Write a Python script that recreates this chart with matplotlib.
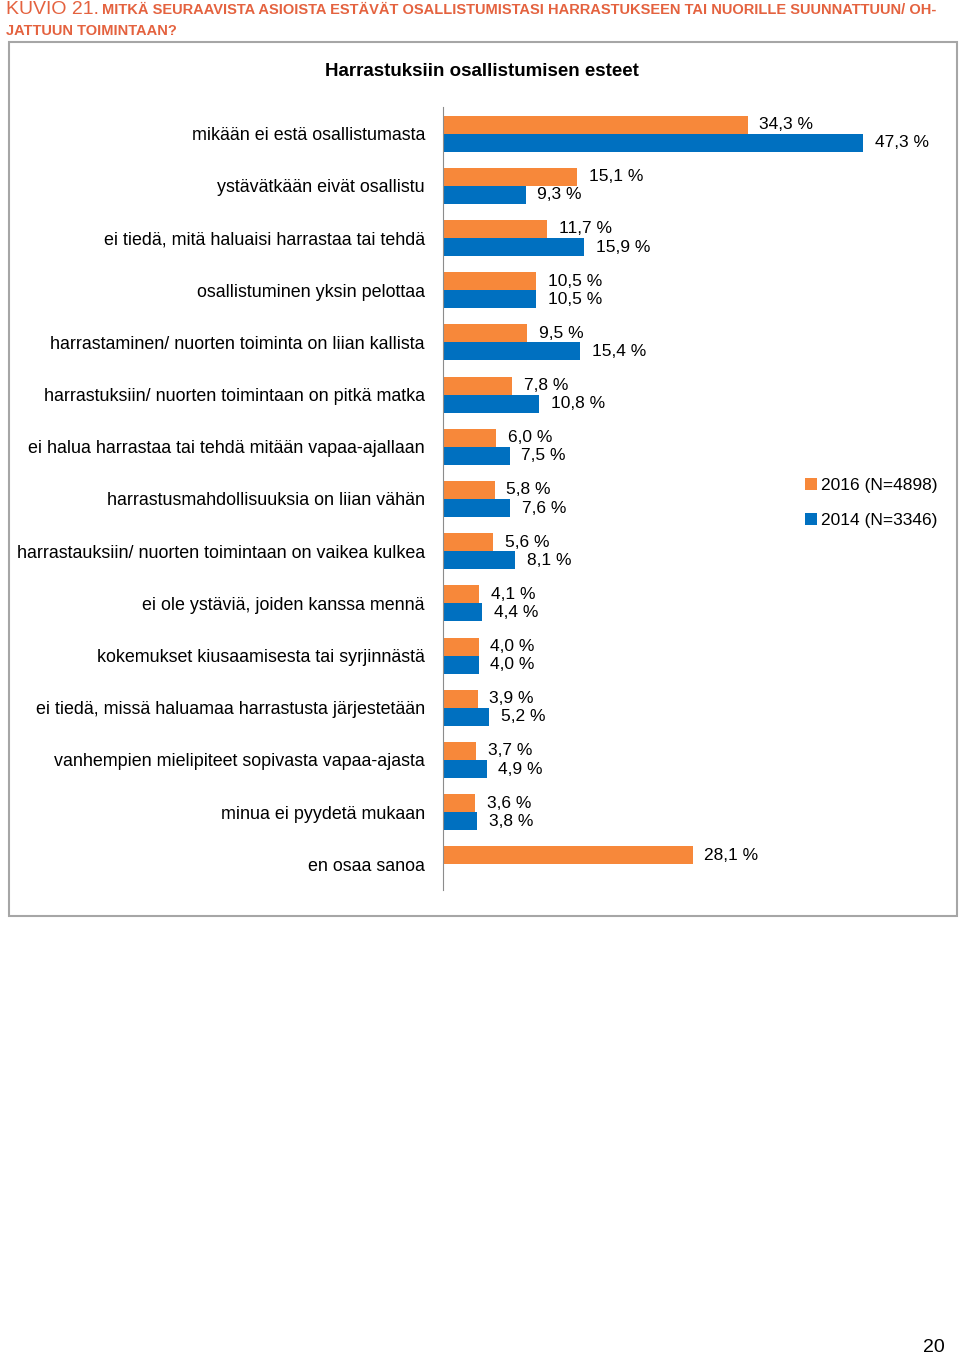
import matplotlib
matplotlib.use("Agg")
import matplotlib.pyplot as plt
from matplotlib.patches import Rectangle

# Arvot luettu kuvasta (%)
kategoriat = [
    "mikään ei estä osallistumasta",
    "ystävätkään eivät osallistu",
    "ei tiedä, mitä haluaisi harrastaa tai tehdä",
    "osallistuminen yksin pelottaa",
    "harrastaminen/ nuorten toiminta on liian kallista",
    "harrastuksiin/ nuorten toimintaan on pitkä matka",
    "ei halua harrastaa tai tehdä mitään vapaa-ajallaan",
    "harrastusmahdollisuuksia on liian vähän",
    "harrastauksiin/ nuorten toimintaan on vaikea kulkea",
    "ei ole ystäviä, joiden kanssa mennä",
    "kokemukset kiusaamisesta tai syrjinnästä",
    "ei tiedä, missä haluamaa harrastusta järjestetään",
    "vanhempien mielipiteet sopivasta vapaa-ajasta",
    "minua ei pyydetä mukaan",
    "en osaa sanoa",
]
arvot_2016 = [34.3, 15.1, 11.7, 10.5, 9.5, 7.8, 6.0, 5.8, 5.6, 4.1, 4.0, 3.9, 3.7, 3.6, 28.1]
arvot_2014 = [47.3, 9.3, 15.9, 10.5, 15.4, 10.8, 7.5, 7.6, 8.1, 4.4, 4.0, 5.2, 4.9, 3.8, None]
sarjat = ["2016 (N=4898)", "2014 (N=3346)"]

ORANSSI = "#F7883A"
SININEN = "#0070C0"
OTSIKKO = "#E4623F"

plt.rcParams["font.family"] = ["Liberation Sans", "DejaVu Sans"]

W, H = 960, 1357
fig = plt.figure(figsize=(W / 100, H / 100), dpi=100)

def px(x, y):
    # pikselit -> kuvion koordinaatit
    return x / W, 1 - y / H

# otsikkorivi
fig.text(*px(6, 9), "KUVIO 21.", color=OTSIKKO, fontsize=14, va="center")
fig.text(*px(102, 10), "MITKÄ SEURAAVISTA ASIOISTA ESTÄVÄT OSALLISTUMISTASI HARRASTUKSEEN TAI NUORILLE SUUNNATTUUN/ OH-",
         color=OTSIKKO, fontsize=10.5, fontweight="bold", va="center")
fig.text(*px(6, 31), "JATTUUN TOIMINTAAN?", color=OTSIKKO, fontsize=10.5,
         fontweight="bold", va="center")

# kaavion kehys
x0, y0 = px(9, 916)
x1, y1 = px(957, 42)
fig.patches.append(Rectangle((x0, y0), x1 - x0, y1 - y0, transform=fig.transFigure,
                             facecolor="white", edgecolor="#A6A6A6", linewidth=1.5, zorder=-10))
fig.text(*px(482, 71), "Harrastuksiin osallistumisen esteet", fontsize=13.5,
         fontweight="bold", ha="center", va="center")

# akseli: x 443..887 px vastaa 0..50 %
ax_l, ax_b = px(443, 890.5)
ax_r, ax_t = px(887, 107.5)
ax = fig.add_axes([ax_l, ax_b, ax_r - ax_l, ax_t - ax_b])
ax.set_facecolor("none")

h = 0.345
for i, (a, b) in enumerate(zip(arvot_2016, arvot_2014)):
    ax.barh(i - h / 2, a, height=h, color=ORANSSI, label=sarjat[0] if i == 0 else None)
    ax.annotate(f"{a:.1f}".replace(".", ",") + " %", (a, i - h / 2),
                xytext=(8.5, 0), textcoords="offset points",
                va="center", ha="left", fontsize=12.5, annotation_clip=False)
    if b is not None:
        ax.barh(i + h / 2, b, height=h, color=SININEN, label=sarjat[1] if i == 0 else None)
        ax.annotate(f"{b:.1f}".replace(".", ",") + " %", (b, i + h / 2),
                    xytext=(8.5, 0), textcoords="offset points",
                    va="center", ha="left", fontsize=12.5, annotation_clip=False)

ax.set_xlim(0, 50)
ax.set_ylim(len(kategoriat) - 0.5, -0.5)
ax.set_yticks(range(len(kategoriat)))
ax.set_yticklabels(kategoriat, fontsize=12.9)
ax.tick_params(axis="y", length=0, pad=13)
ax.set_xticks([])
for s in ["top", "right", "bottom"]:
    ax.spines[s].set_visible(False)
ax.spines["left"].set_color("#8C8C8C")

leg = fig.legend(loc="upper left", bbox_to_anchor=px(798, 471), frameon=False,
                 fontsize=12.5, handlelength=0.7, handleheight=0.7,
                 handletextpad=0.25, labelspacing=1.15, borderaxespad=0)

fig.text(*px(934, 1347), "20", fontsize=14, ha="center", va="center")

fig.savefig("out.png", dpi=100)
